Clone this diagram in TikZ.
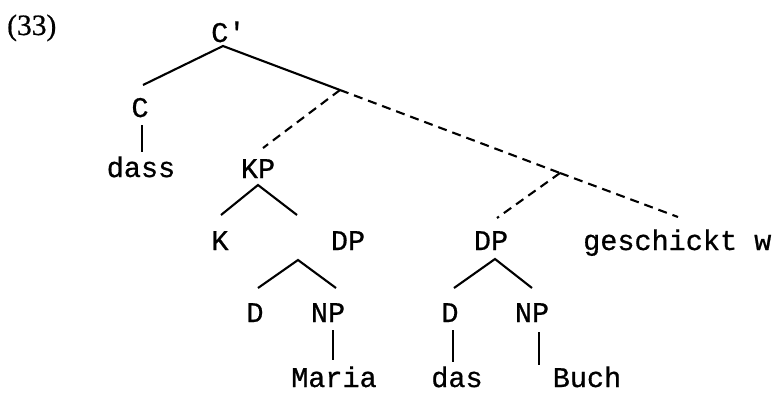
\documentclass[tikz,border=0pt]{standalone}
\usepackage{fontspec}
\setmainfont{Liberation Serif}[FakeBold=0.6]
\setmonofont{Liberation Mono}[FakeBold=0.7]
\begin{document}
\begin{tikzpicture}[x=1pt,y=-1pt,
  lbl/.style={inner sep=0pt,anchor=base,text depth=0pt,font=\fontsize{28.5}{30}\selectfont\ttfamily},
  branch/.style={line width=2.1pt},
  dashbranch/.style={line width=2.1pt,dash pattern=on 9pt off 6pt}]
\useasboundingbox (0,0) rectangle (776,392);
% example number
\node[inner sep=0pt,anchor=base west,text depth=0pt,font=\fontsize{29.5}{32}\selectfont] (num) at (7,35) {(33)};
% labels
\node[lbl,anchor=base west] (Cp) at (211,42) {C'};
\node[lbl] (C) at (140,117) {C};
\node[lbl] (dass) at (141,177) {dass};
\node[lbl] (KP) at (258,178) {KP};
\node[lbl] (K) at (220,250) {K};
\node[lbl] (DPa) at (348,250) {DP};
\node[lbl] (DPb) at (491,250) {DP};
\node[lbl,anchor=base west] (gw) at (583,250) {geschickt w};
\node[lbl] (Da) at (255,322) {D};
\node[lbl] (NPa) at (328,322) {NP};
\node[lbl] (Db) at (450,322) {D};
\node[lbl] (NPb) at (532,322) {NP};
\node[lbl] (maria) at (334,387) {Maria};
\node[lbl] (das) at (457,387) {das};
\node[lbl] (buch) at (587,387) {Buch};
% connector ends
\coordinate (cpB) at (223,46);
\coordinate (cT) at (143,85);
\coordinate (j1) at (340,90);
\coordinate (cB) at (142,125);
\coordinate (dassT) at (142,152);
\coordinate (kpT) at (263,148);
\coordinate (j2) at (560,173);
\coordinate (dpbT) at (497,218);
\coordinate (gwT) at (678,217);
\coordinate (kpB) at (258,185);
\coordinate (kT) at (221,215);
\coordinate (dpaT) at (297,215);
\coordinate (dpaB) at (298,260);
\coordinate (daT) at (258,288);
\coordinate (npaT) at (336,288);
\coordinate (npaB) at (333,330);
\coordinate (mariaT) at (333,360);
\coordinate (dpbB) at (495,259);
\coordinate (dbT) at (454,288);
\coordinate (npbT) at (532,288);
\coordinate (dbB) at (453,330);
\coordinate (dasT) at (453,362);
\coordinate (npbB) at (539,332);
\coordinate (buchT) at (539,365);
% solid branches
\draw[branch] (cT) -- (cpB) -- (j1);
\draw[branch] (cB) -- (dassT);
\draw[branch] (kT) -- (kpB) -- (dpaT);
\draw[branch] (daT) -- (dpaB) -- (npaT);
\draw[branch] (npaB) -- (mariaT);
\draw[branch] (dbT) -- (dpbB) -- (npbT);
\draw[branch] (dbB) -- (dasT);
\draw[branch] (npbB) -- (buchT);
% dashed branches
\draw[dashbranch] (j1) -- (kpT);
\draw[dashbranch] (j1) -- (j2);
\draw[dashbranch] (j2) -- (dpbT);
\draw[dashbranch] (j2) -- (gwT);
\end{tikzpicture}
\end{document}
